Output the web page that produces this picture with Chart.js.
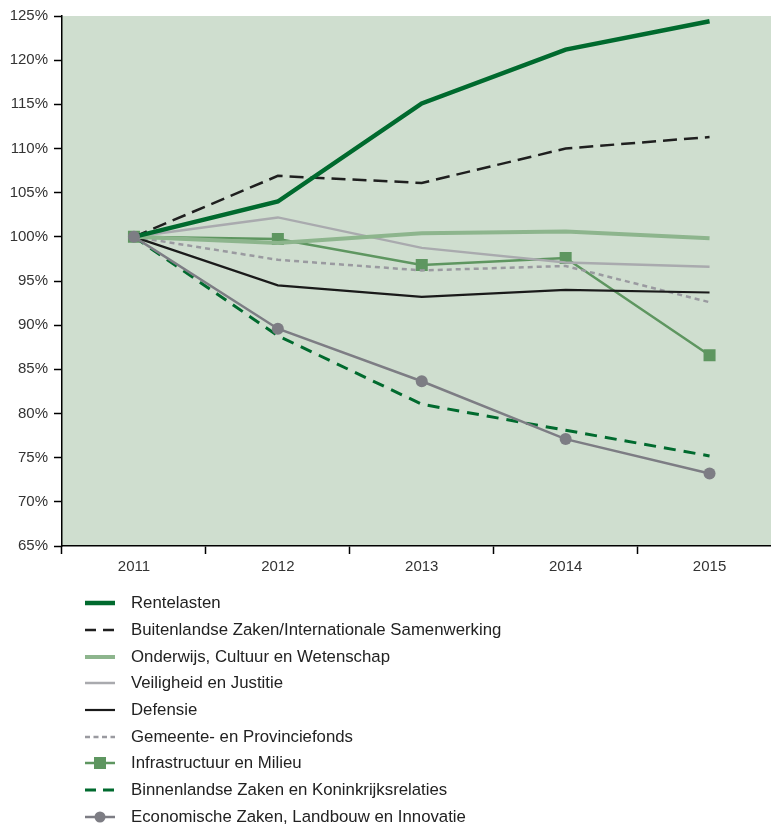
<!DOCTYPE html>
<html>
<head>
<meta charset="utf-8">
<script src="https://cdn.jsdelivr.net/npm/chart.js@4"></script>
<style>
	body { margin: 0; background: #fff; font-family: "Liberation Sans", Arial, sans-serif; }
	#wrap { width: 771px; height: 825px; overflow: hidden; position: relative; }
	#chart { position: absolute; left: 0; top: 0; }
	#legend { position: absolute; left: 84px; top: 590px; margin: 0; padding: 0; list-style: none; }
	#legend li { height: 26.7px; display: flex; align-items: center; font-size: 16.8px; color: #222; }
	#legend canvas { width: 32px; height: 14px; margin-right: 15px; }
</style>
</head>
<body>
<div id="wrap">
	<canvas id="chart" width="790" height="580"></canvas>
	<ul id="legend"></ul>
</div>
<script>
// DATA
const years = ["2011", "2012", "2013", "2014", "2015"];
const yTicks = [65, 70, 75, 80, 85, 90, 95, 100, 105, 110, 115, 120, 125];

const rentelasten = [100, 104.0, 115.1, 121.2, 124.4];
const buitenlandseZaken = [100, 106.9, 106.1, 110.0, 111.3];
const onderwijs = [100, 99.3, 100.4, 100.6, 99.85];
const veiligheid = [100, 102.2, 98.75, 97.1, 96.6];
const defensie = [100, 94.5, 93.2, 94.0, 93.7];
const gemeentefonds = [100, 97.4, 96.2, 96.7, 92.6];
const infrastructuur = [100, 99.75, 96.8, 97.6, 86.6];
const binnenlandseZaken = [100, 88.8, 81.05, 78.1, 75.2];
const economischeZaken = [100, 89.6, 83.65, 77.1, 73.2];

const series = [
	{ label: "Rentelasten", data: rentelasten, color: "#006a2e", width: 4.5, dash: [] },
	{ label: "Buitenlandse Zaken/Internationale Samenwerking", data: buitenlandseZaken, color: "#1f1f1f", width: 2.5, dash: [14, 7] },
	{ label: "Onderwijs, Cultuur en Wetenschap", data: onderwijs, color: "#8db58d", width: 4, dash: [] },
	{ label: "Veiligheid en Justitie", data: veiligheid, color: "#a9aaae", width: 2.5, dash: [] },
	{ label: "Defensie", data: defensie, color: "#1a1a1a", width: 2.2, dash: [] },
	{ label: "Gemeente- en Provinciefonds", data: gemeentefonds, color: "#9a9aa0", width: 2.5, dash: [5, 4] },
	{ label: "Infrastructuur en Milieu", data: infrastructuur, color: "#5e9660", width: 2.5, dash: [], point: "rect", radius: 8.5 },
	{ label: "Binnenlandse Zaken en Koninkrijksrelaties", data: binnenlandseZaken, color: "#006a2e", width: 3, dash: [12, 8] },
	{ label: "Economische Zaken, Landbouw en Innovatie", data: economischeZaken, color: "#7d7d84", width: 2.5, dash: [], point: "circle", radius: 6 },
];

const plotBackground = {
	id: "plotBackground",
	beforeDraw(chart) {
		const { ctx, chartArea: a } = chart;
		ctx.save();
		ctx.fillStyle = "#cfdecf";
		ctx.fillRect(a.left, a.top, a.right - a.left, a.bottom - a.top);
		ctx.restore();
	},
};

const tickFont = { family: "'Liberation Sans', Arial, sans-serif", size: 15 };

const chart = new Chart(document.getElementById("chart"), {
	type: "line",
	data: {
		labels: years,
		datasets: series.map((s, i) => ({
			label: s.label,
			data: s.data,
			borderColor: s.color,
			backgroundColor: s.color,
			borderWidth: s.width,
			borderDash: s.dash,
			borderCapStyle: "butt",
			tension: 0,
			pointStyle: s.point || "circle",
			pointRadius: s.point ? s.radius : 0,
			pointBorderWidth: 0,
			order: s.point === "circle" ? -1 : i,
		})),
	},
	options: {
		responsive: false,
		animation: false,
		layout: { padding: { top: 16, right: 0, left: 0, bottom: 0 } },
		plugins: { legend: { display: false }, tooltip: { enabled: false } },
		scales: {
			x: {
				offset: true,
				grid: { offset: true, drawOnChartArea: false, drawTicks: true, tickLength: 8, color: "#000", tickWidth: 1.5 },
				border: { color: "#000", width: 1.5 },
				ticks: { font: tickFont, color: "#333", padding: 4 },
				afterFit: (scale) => { scale.height = 34; },
			},
			y: {
				min: 65,
				max: 125,
				afterBuildTicks: (scale) => { scale.ticks = yTicks.map((v) => ({ value: v })); },
				grid: { drawOnChartArea: false, drawTicks: true, tickLength: 8, color: "#000", tickWidth: 1.5 },
				border: { color: "#000", width: 1.5 },
				ticks: { font: tickFont, color: "#333", padding: 6, callback: (v) => v + "%" },
				afterFit: (scale) => { scale.width = 62; },
			},
		},
	},
	plugins: [plotBackground],
});

// HTML legend drawn from the same datasets
const legend = document.getElementById("legend");
chart.data.datasets.forEach((ds) => {
	const li = document.createElement("li");
	const c = document.createElement("canvas");
	c.width = 32;
	c.height = 14;
	const g = c.getContext("2d");
	g.strokeStyle = ds.borderColor;
	g.lineWidth = ds.borderWidth;
	g.setLineDash(ds.borderDash.length ? [11, 7] : []);
	if (ds.borderDash[0] === 5) g.setLineDash([5, 3.5]);
	g.beginPath();
	g.moveTo(1, 7);
	g.lineTo(31, 7);
	g.stroke();
	if (ds.pointRadius) {
		g.fillStyle = ds.backgroundColor;
		if (ds.pointStyle === "rect") g.fillRect(10, 1, 12, 12);
		else { g.beginPath(); g.arc(16, 7, 5.5, 0, Math.PI * 2); g.fill(); }
	}
	li.appendChild(c);
	li.appendChild(document.createTextNode(ds.label));
	legend.appendChild(li);
});
</script>
</body>
</html>
